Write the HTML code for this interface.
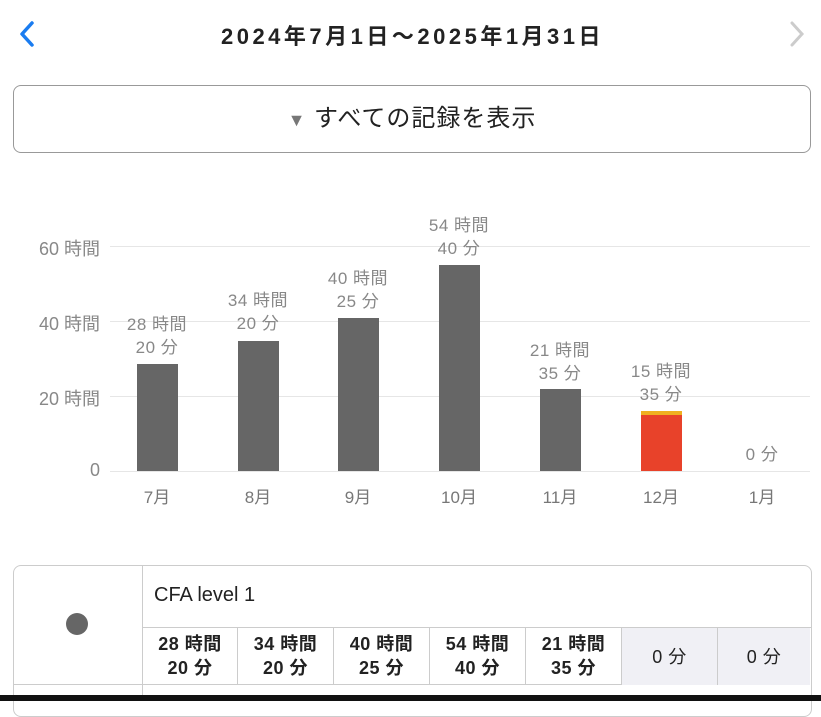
<!DOCTYPE html><html><head><meta charset="utf-8"><style>
body{margin:0;width:821px;height:701px;background:#fff;position:relative;overflow:hidden;font-family:"Liberation Sans","Noto Sans CJK JP",sans-serif}
.a{position:absolute}
.gl{position:absolute;left:110px;width:700px;height:1px;background:#e6e6e6}
.yl{position:absolute;left:20px;width:80px;text-align:right;font-size:18px;color:#888}
.bar{position:absolute;width:41px;background:#666}
.lb{position:absolute;width:100px;text-align:center;font-size:17px;color:#888;line-height:23px;letter-spacing:0.5px}
.xl{position:absolute;width:60px;text-align:center;font-size:17px;color:#777;top:483px}
.c{position:absolute;top:628px;height:57px;border-left:1px solid #ccc;text-align:center;font-size:18px;font-weight:bold;line-height:24px;box-sizing:border-box;padding-top:4px;color:#222;letter-spacing:0.5px}
</style></head><body>
<svg class="a" style="left:17px;top:20px" width="20" height="28"><polyline points="15,3 5,14 15,25" fill="none" stroke="#1a7cf0" stroke-width="3.5" stroke-linecap="round" stroke-linejoin="round"/></svg>
<svg class="a" style="left:787px;top:20px" width="20" height="28"><polyline points="5,3 15,14 5,25" fill="none" stroke="#ccc" stroke-width="3" stroke-linecap="round"/></svg>
<div class="a" style="left:0;width:825px;top:19px;text-align:center;font-size:22px;font-weight:bold;color:#222;letter-spacing:3.5px">2024年7月1日〜2025年1月31日</div>
<div class="a" style="left:13px;top:85px;width:796px;height:66px;border:1.5px solid #999;border-radius:8px;text-align:center;line-height:66px;font-size:24px;color:#222;letter-spacing:1px"><span style="font-size:18px;color:#777">▼</span> すべての記録を表示</div>
<div class="gl" style="top:246px"></div><div class="gl" style="top:321px"></div><div class="gl" style="top:396px"></div><div class="gl" style="top:471px"></div>
<div class="yl" style="top:235px">60 時間</div><div class="yl" style="top:310px">40 時間</div><div class="yl" style="top:385px">20 時間</div><div class="yl" style="top:460px">0</div>
<div class="bar" style="left:137px;top:364px;height:107px"></div>
<div class="bar" style="left:238px;top:341px;height:130px"></div>
<div class="bar" style="left:338px;top:318px;height:153px"></div>
<div class="bar" style="left:439px;top:265px;height:206px"></div>
<div class="bar" style="left:540px;top:389px;height:82px"></div>
<div class="bar" style="left:641px;top:411px;height:60px;background:#e8422a;border-top:4px solid #f0b020;box-sizing:border-box"></div>
<div class="lb" style="left:107px;top:313px">28 時間<br>20 分</div>
<div class="lb" style="left:208px;top:289px">34 時間<br>20 分</div>
<div class="lb" style="left:308px;top:267px">40 時間<br>25 分</div>
<div class="lb" style="left:409px;top:214px">54 時間<br>40 分</div>
<div class="lb" style="left:510px;top:339px">21 時間<br>35 分</div>
<div class="lb" style="left:611px;top:360px">15 時間<br>35 分</div>
<div class="lb" style="left:712px;top:443px">0 分</div>
<div class="xl" style="left:127px">7月</div><div class="xl" style="left:228px">8月</div><div class="xl" style="left:328px">9月</div><div class="xl" style="left:429px">10月</div><div class="xl" style="left:530px">11月</div><div class="xl" style="left:631px">12月</div><div class="xl" style="left:732px">1月</div>
<div class="a" style="left:13px;top:565px;width:797px;height:150px;border:1.5px solid #ccc;border-radius:8px"></div>
<div class="a" style="left:142px;top:566px;width:1px;height:130px;background:#ccc"></div>
<div class="a" style="left:66px;top:613px;width:22px;height:22px;border-radius:50%;background:#666"></div>
<div class="a" style="left:13px;top:684px;width:797px;height:1px;background:#ccc"></div>
<div class="a" style="left:154px;top:584px;font-size:20px;color:#222">CFA level 1</div>
<div class="a" style="left:142px;top:627px;width:669px;height:1px;background:#ccc"></div>
<div class="c" style="left:142px;width:95px">28 時間<br>20 分</div>
<div class="c" style="left:237px;width:96px">34 時間<br>20 分</div>
<div class="c" style="left:333px;width:96px">40 時間<br>25 分</div>
<div class="c" style="left:429px;width:96px">54 時間<br>40 分</div>
<div class="c" style="left:525px;width:96px">21 時間<br>35 分</div>
<div class="c" style="left:621px;width:96px;background:#f0f0f5;font-weight:normal;line-height:50px">0 分</div>
<div class="c" style="left:717px;width:93px;background:#f0f0f5;font-weight:normal;line-height:50px">0 分</div>
<div class="a" style="left:0;top:695px;width:821px;height:6px;background:#111"></div>
</body></html>
